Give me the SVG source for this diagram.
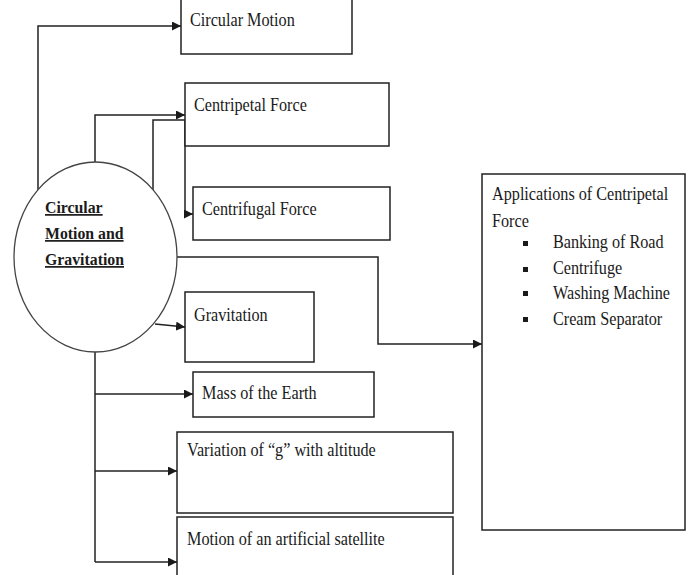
<svg xmlns="http://www.w3.org/2000/svg" width="699" height="575" viewBox="0 0 699 575">
  <style>
    .box { fill: #ffffff; stroke: #222222; stroke-width: 1.5; }
    .hub { fill: #ffffff; stroke: #444444; stroke-width: 1.3; }
    .lbl { font-family: "Liberation Serif", "Times New Roman", serif; font-size: 18px; fill: #1a1a1a; }
    .hubtxt { font-family: "Liberation Serif", "Times New Roman", serif; font-size: 17px; font-weight: bold; fill: #1a1a1a; text-decoration: underline; }
    .wire { fill: none; stroke: #222222; stroke-width: 1.5; }
    .arrowed { marker-end: url(#head); }
  </style>
  <defs>
    <marker id="head" viewBox="0 0 10 10" refX="10" refY="5" markerUnits="userSpaceOnUse" markerWidth="9" markerHeight="9" orient="auto">
      <path d="M0,0 L10,5 L0,10 z" fill="#1a1a1a"/>
    </marker>
  </defs>
  <rect width="699" height="575" fill="#ffffff"/>

  <g id="connectors">
    <path class="wire arrowed" d="M38,190 V26 H181"/>
    <path class="wire arrowed" d="M95,162 V115 H185"/>
    <path class="wire arrowed" d="M153,190 V120 H185 V214 H193"/>
    <path class="wire arrowed" d="M177,257 H378 V344 H482"/>
    <path class="wire arrowed" d="M155,324 L185,327"/>
    <path class="wire" d="M95,352 V562"/>
    <path class="wire arrowed" d="M95,394 H193"/>
    <path class="wire arrowed" d="M95,471 H177"/>
    <path class="wire arrowed" d="M95,562 H177"/>
  </g>

  <g id="hub">
    <ellipse class="hub" cx="95.5" cy="257" rx="81.5" ry="95"/>
    <text class="hubtxt" transform="translate(45,213) scale(0.93,1)">Circular</text>
    <text class="hubtxt" transform="translate(45,239) scale(0.93,1)">Motion and</text>
    <text class="hubtxt" transform="translate(45,265) scale(0.93,1)">Gravitation</text>
  </g>

  <g id="circular-motion">
    <rect class="box" x="181" y="-2" width="171" height="56"/>
    <text class="lbl" transform="translate(190,26) scale(0.9,1)">Circular Motion</text>
  </g>

  <g id="centripetal-force">
    <rect class="box" x="185" y="83" width="204" height="63"/>
    <text class="lbl" transform="translate(194,111) scale(0.9,1)">Centripetal Force</text>
  </g>

  <g id="centrifugal-force">
    <rect class="box" x="193" y="187" width="197" height="53"/>
    <text class="lbl" transform="translate(202,215) scale(0.9,1)">Centrifugal Force</text>
  </g>

  <g id="gravitation">
    <rect class="box" x="185" y="292" width="129" height="70"/>
    <text class="lbl" transform="translate(194,321) scale(0.9,1)">Gravitation</text>
  </g>

  <g id="mass-of-earth">
    <rect class="box" x="193" y="372" width="181" height="45"/>
    <text class="lbl" transform="translate(202,399) scale(0.9,1)">Mass of the Earth</text>
  </g>

  <g id="variation-of-g">
    <rect class="box" x="177" y="432" width="276" height="81"/>
    <text class="lbl" transform="translate(187,456) scale(0.9,1)">Variation of “g” with altitude</text>
  </g>

  <g id="artificial-satellite">
    <rect class="box" x="177" y="517" width="276" height="70"/>
    <text class="lbl" transform="translate(187,545) scale(0.9,1)">Motion of an artificial satellite</text>
  </g>

  <g id="applications">
    <rect class="box" x="482" y="174" width="203" height="356"/>
    <text class="lbl" transform="translate(492,200) scale(0.9,1)">Applications of Centripetal</text>
    <text class="lbl" transform="translate(492,227) scale(0.9,1)">Force</text>
    <g fill="#1a1a1a">
      <rect x="523" y="241" width="5" height="5"/>
      <rect x="523" y="267" width="5" height="5"/>
      <rect x="523" y="291" width="5" height="5"/>
      <rect x="523" y="317" width="5" height="5"/>
    </g>
    <text class="lbl" transform="translate(553,248) scale(0.9,1)">Banking of Road</text>
    <text class="lbl" transform="translate(553,274) scale(0.9,1)">Centrifuge</text>
    <text class="lbl" transform="translate(553,299) scale(0.9,1)">Washing Machine</text>
    <text class="lbl" transform="translate(553,325) scale(0.9,1)">Cream Separator</text>
  </g>
</svg>
